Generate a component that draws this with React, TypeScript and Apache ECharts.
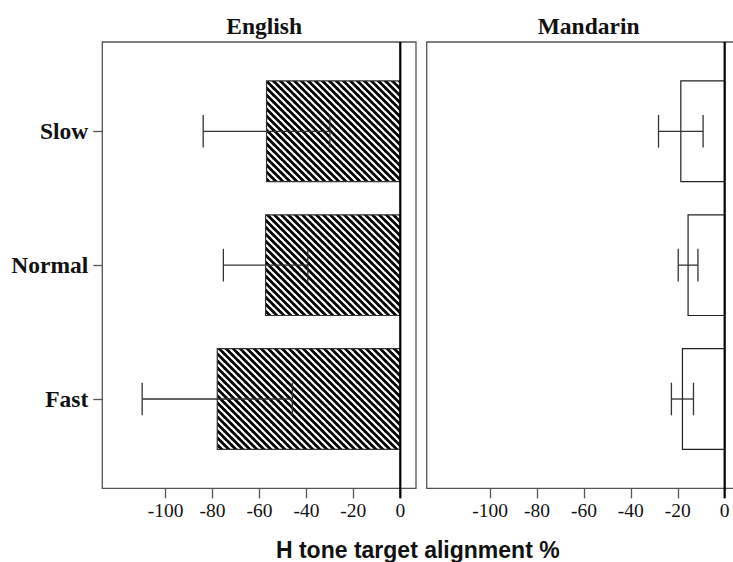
import React, { useEffect, useRef } from 'react';
import * as echarts from 'echarts';

const categories = ['Slow', 'Normal', 'Fast'];
const englishMeans = [-57, -57.4, -78];
const englishErrors = [27, 18, 32];
const mandarinMeans = [-18.7, -15.6, -18];
const mandarinErrors = [9.5, 4.2, 4.7];
const xTickValues = [-100, -80, -60, -40, -20, 0];
const panelTitles = ['English', 'Mandarin'];
const xAxisTitle = 'H tone target alignment %';

const X_MIN = -127;
const X_MAX = 6.7;
const Y_MIN = -0.667;
const Y_MAX = 2.667;
const BAR_H = 0.752;
const CAP_H = 0.244;

function makeHatch(): HTMLCanvasElement {
  const c = document.createElement('canvas');
  const P = 7;
  c.width = P;
  c.height = P;
  const ctx = c.getContext('2d')!;
  ctx.fillStyle = '#000';
  ctx.fillRect(0, 0, P, P);
  ctx.strokeStyle = '#fff';
  ctx.lineWidth = 2.2;
  for (let k = -1; k <= 1; k++) {
    ctx.beginPath();
    ctx.moveTo(k * P - 1, -1);
    ctx.lineTo(k * P + P + 1, P + 1);
    ctx.stroke();
  }
  return c;
}

function makeRender(fill: any, stroke: string) {
  return (params: any, api: any) => {
    const yi = api.value(0);
    const m = api.value(1);
    const e = api.value(2);
    const base = api.coord([0, yi]);
    const end = api.coord([m, yi]);
    const h = api.size([0, BAR_H])[1];
    const cap = api.size([0, CAP_H])[1] / 2;
    const lo = api.coord([m - e, yi]);
    const hi = api.coord([m + e, yi]);
    const eb = { stroke: '#333', lineWidth: 1.3 };
    return {
      type: 'group',
      children: [
        {
          type: 'rect',
          shape: { x: end[0], y: base[1] - h / 2, width: base[0] - end[0], height: h },
          style: { fill, stroke, lineWidth: 1.2 },
        },
        { type: 'line', shape: { x1: lo[0], y1: lo[1], x2: hi[0], y2: hi[1] }, style: eb },
        { type: 'line', shape: { x1: lo[0], y1: lo[1] - cap, x2: lo[0], y2: lo[1] + cap }, style: eb },
        { type: 'line', shape: { x1: hi[0], y1: hi[1] - cap, x2: hi[0], y2: hi[1] + cap }, style: eb },
      ],
    };
  };
}

const zeroRender = (params: any, api: any) => {
  const top = api.coord([0, Y_MIN]);
  const bot = api.coord([0, Y_MAX]);
  return {
    type: 'line',
    shape: { x1: top[0], y1: top[1], x2: bot[0], y2: bot[1] + 10 },
    style: { stroke: '#000', lineWidth: 2.2 },
  };
};

export default function App() {
  const ref = useRef<HTMLDivElement>(null);
  useEffect(() => {
    if (!ref.current) return;
    const chart = echarts.init(ref.current, null, { renderer: 'svg' });
    const hatch = makeHatch();
    const serif = 'Liberation Serif, Times New Roman, serif';

    const grids = [
      { left: 102.3, top: 42, width: 313.7, height: 446.3 },
      { left: 426.7, top: 42, width: 313.7, height: 446.3 },
    ].map((g) => ({ ...g, show: true, borderColor: '#555', borderWidth: 1.3, backgroundColor: 'transparent' }));

    const xAxes = [0, 1].map((i) => ({
      type: 'value',
      gridIndex: i,
      min: X_MIN,
      max: X_MAX,
      position: 'bottom',
      axisLine: { show: false, onZero: false },
      splitLine: { show: false },
      axisTick: { show: true, customValues: xTickValues, length: 10, lineStyle: { color: '#555', width: 1.3 } },
      axisLabel: {
        show: true,
        customValues: xTickValues,
        margin: 12,
        fontFamily: serif,
        fontSize: 19.5,
        color: '#111',
        formatter: (v: number) => String(v),
      },
    }));

    const yAxes = [0, 1].map((i) => ({
      type: 'value',
      gridIndex: i,
      min: Y_MIN,
      max: Y_MAX,
      inverse: true,
      position: 'left',
      axisLine: { show: false, onZero: false },
      splitLine: { show: false },
      axisTick: {
        show: i === 0,
        customValues: [0, 1, 2],
        length: 9,
        lineStyle: { color: '#555', width: 1.3 },
      },
      axisLabel: {
        show: i === 0,
        customValues: [0, 1, 2],
        margin: 14,
        fontFamily: serif,
        fontWeight: 'bold',
        fontSize: 23.5,
        color: '#111',
        formatter: (v: number) => categories[Math.round(v)] ?? '',
      },
    }));

    const engData = categories.map((c, i) => [i, englishMeans[i], englishErrors[i]]);
    const manData = categories.map((c, i) => [i, mandarinMeans[i], mandarinErrors[i]]);

    chart.setOption({
      animation: false,
      backgroundColor: '#fff',
      grid: grids,
      xAxis: xAxes,
      yAxis: yAxes,
      title: [
        {
          text: panelTitles[0],
          left: 259.2,
          top: 9,
          textAlign: 'center',
          textStyle: { fontFamily: serif, fontWeight: 'bold', fontSize: 23.5, color: '#111' },
        },
        {
          text: panelTitles[1],
          left: 583.6,
          top: 9,
          textAlign: 'center',
          textStyle: { fontFamily: serif, fontWeight: 'bold', fontSize: 23.5, color: '#111' },
        },
      ],
      graphic: [
        {
          type: 'text',
          x: 417.8,
          y: 550,
          style: {
            text: xAxisTitle,
            fontFamily: 'Liberation Sans, Arial, sans-serif',
            fontWeight: 'bold',
            fontSize: 23,
            fill: '#111',
            textAlign: 'center',
            textVerticalAlign: 'middle',
          },
        },
      ],
      series: [
        {
          type: 'custom',
          xAxisIndex: 0,
          yAxisIndex: 0,
          encode: { x: 1, y: 0 },
          data: engData,
          renderItem: makeRender({ image: hatch, repeat: 'repeat' }, '#333'),
          z: 2,
        },
        {
          type: 'custom',
          xAxisIndex: 1,
          yAxisIndex: 1,
          encode: { x: 1, y: 0 },
          data: manData,
          renderItem: makeRender('#fff', '#222'),
          z: 2,
        },
        {
          type: 'custom',
          xAxisIndex: 0,
          yAxisIndex: 0,
          encode: { x: 0 },
          data: [[0]],
          renderItem: zeroRender,
          z: 3,
        },
        {
          type: 'custom',
          xAxisIndex: 1,
          yAxisIndex: 1,
          encode: { x: 0 },
          data: [[0]],
          renderItem: zeroRender,
          z: 3,
        },
      ],
    });
    return () => chart.dispose();
  }, []);
  return (
    <div
      style={{ position: 'fixed', left: 0, top: 0, width: 733, height: 562, overflow: 'hidden', background: '#fff' }}
    >
      <div ref={ref} style={{ width: 760, height: 562 }} />
    </div>
  );
}
